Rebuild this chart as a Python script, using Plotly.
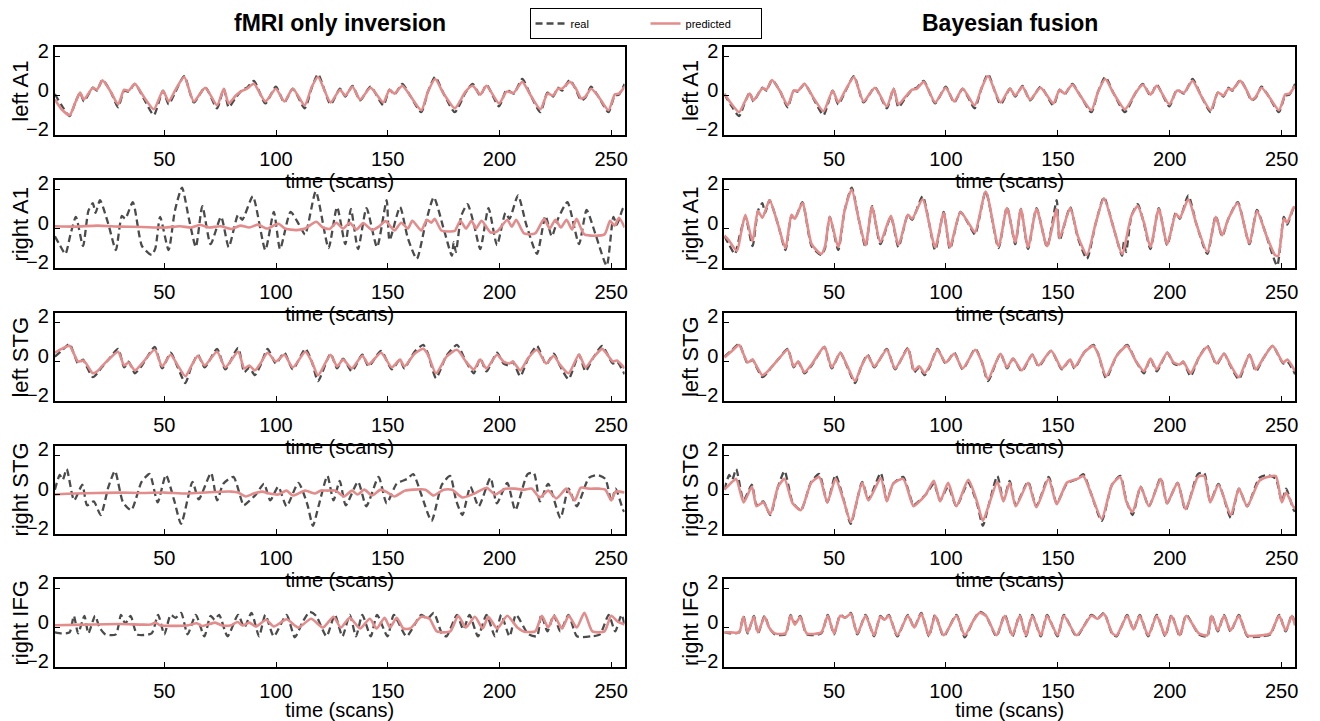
import plotly.graph_objects as go

# ---------------- data ----------------
regions = ["left A1", "right A1", "left STG", "right STG", "right IFG"]
col_titles = ["fMRI only inversion", "Bayesian fusion"]
x_ticks = [50, 100, 150, 200, 250]
y_ticks = [-2, 0, 2]

real_leftA1 = [(1,0.08),(4,-0.5),(7.6,-1.05),(10,-0.4),(12.3,0.15),(14,-0.3),(18,0.4),(19.8,0.25),(22.3,0.8),(26,0.2),(29.3,-0.6),(32,0.25),(34,0.2),(36.8,0.6),(41,-0.2),(45.3,-1.0),(49.4,0.25),(51.9,-0.45),(55,0.2),(58.9,1.0),(63.2,-0.35),(68.3,0.42),(73.6,-0.65),(76.6,0.35),(78.8,-0.6),(82,-0.1),(84.9,0.3),(87,0.4),(90.1,0.75),(95.2,-0.4),(99.9,0.45),(103.7,-0.35),(107.5,0.35),(112.8,-0.65),(116,0.4),(118.8,1.1),(124.4,-0.45),(128.6,0.35),(131,-0.05),(134.2,0.5),(137.6,-0.25),(142.3,0.45),(148,-0.5),(150.8,0.3),(153,0.05),(156.5,0.6),(160,0.0),(165,-0.85),(168,0.2),(171.2,0.95),(175,0.1),(180,-0.85),(184.8,0.15),(188,0.6),(191.4,0.0),(194.2,0.55),(199.8,-0.55),(203.2,0.3),(206.4,0.1),(210.2,0.85),(214,0.0),(218.3,-0.85),(221.5,0.15),(224,-0.05),(226.2,0.4),(228,0.25),(231.5,0.8),(234,0.35),(236.6,-0.25),(238.5,-0.1),(241,0.45),(244,0.0),(248.8,-0.85),(251.6,0.0),(253.5,0.05),(256,0.6)]
real_rightA1 = [(1,-0.4),(3,-0.8),(5.7,-1.3),(8,-0.3),(10.4,0.6),(13.6,-0.9),(16,0.9),(18,1.3),(19.2,0.8),(21.2,1.45),(25,0.2),(28.3,-1.1),(31,0.65),(32.5,0.5),(35.9,1.35),(40,-0.9),(44.3,-1.35),(46,-1.0),(48.1,0.6),(51.9,-1.1),(54.7,0.9),(57.9,2.1),(61,0.5),(64.1,-0.95),(67,1.15),(70.7,-0.8),(75.4,0.6),(78.8,-0.95),(83,0.7),(84.9,0.45),(89.6,1.65),(95.2,-1.1),(99,0.85),(101.8,-1.05),(106.5,0.85),(110.3,0.2),(113,-0.3),(117.8,1.9),(123.5,-1.0),(127.3,1.1),(131,-0.8),(133.5,1.0),(136.7,-1.05),(140.5,1.05),(145.2,-0.95),(149.5,1.45),(150.8,-0.6),(155.5,1.1),(159,-0.5),(163,-1.55),(167,0.3),(170.6,1.6),(175,0.0),(178.7,-1.4),(179.5,-0.7),(180.5,-1.2),(182.9,0.65),(185.7,1.25),(188.5,0.25),(191.4,-1.05),(195.1,1.05),(198.9,-0.85),(202.7,0.8),(204.5,0.5),(208.3,1.7),(212,0.2),(216.8,-1.3),(220.6,0.65),(223.4,-0.4),(226.2,0.5),(230.4,1.35),(235.6,-0.8),(239,0.95),(243,-0.3),(248,-1.9),(251,0.6),(252.5,0.2),(255.4,1.05),(256,0.95)]
real_leftSTG = [(1,0.25),(4,0.55),(7.6,0.9),(9.5,0.4),(11.4,-0.1),(13.6,0.1),(15,-0.2),(18,-0.8),(20,-0.6),(22,-0.3),(25,0.1),(29.3,0.65),(32,-0.3),(34,0.0),(36.8,-0.6),(40,-0.2),(45.7,0.75),(49,-0.35),(52.8,0.45),(56,-0.3),(59.4,-1.1),(62,-0.3),(65,0.35),(68,-0.3),(73.6,0.65),(77.3,-0.4),(83,0.7),(85.8,-0.55),(88,-0.3),(90.5,-0.7),(93,-0.2),(96.2,0.65),(99.9,-0.1),(103.7,0.45),(107.5,-0.4),(113.1,0.65),(116,0.0),(118.8,-1.0),(124.4,0.4),(127.3,-0.35),(130,0.15),(133.9,-0.5),(138.6,0.35),(141.4,-0.25),(147,0.55),(151.8,-0.4),(155.5,0.1),(157.4,-0.35),(162,0.5),(165.9,0.85),(168,0.4),(171.6,-0.85),(176.3,0.3),(181,0.85),(185,0.0),(188.5,-0.6),(191.4,0.15),(194.2,-0.5),(198.9,0.45),(201.8,-0.1),(204.5,-0.2),(206,0.0),(209.3,-0.75),(213,0.2),(216.8,0.8),(220.9,-0.15),(224.3,0.4),(227,-0.2),(230.9,-0.9),(235.6,0.35),(238.5,-0.5),(242,0.2),(246,0.8),(250.7,-0.1),(252.6,0.0),(256,-0.65)]
real_rightSTG = [(1,0.25),(3.2,1.0),(4.5,0.75),(6.3,1.3),(9.6,-0.3),(13.3,0.5),(15.4,-0.55),(18.4,-0.35),(21.5,-1.05),(25,0.4),(27.9,1.2),(31.5,-0.4),(35.2,-0.8),(39.8,0.65),(43.4,1.05),(47,-0.4),(50.7,1.0),(54.4,-0.3),(57.5,-1.5),(62.6,0.65),(65.4,-0.25),(70.9,1.1),(73.6,-0.3),(76.4,0.55),(80.9,0.9),(85.5,-0.55),(87.3,-0.4),(91,0.0),(94.6,0.55),(97.4,-0.3),(101,0.4),(104.7,-0.6),(110,0.6),(114,-0.5),(116.5,-1.6),(119,-0.6),(123,0.95),(125.7,-0.3),(128.5,0.7),(131.2,-0.55),(136.7,0.65),(140.4,-0.6),(145.9,0.9),(149.5,-0.45),(154,0.55),(158.7,0.8),(161.4,1.05),(165,0.0),(169.6,-1.35),(174.2,0.5),(177.9,0.95),(180.6,-0.3),(183.4,-1.05),(187,0.4),(190.7,-0.6),(196,0.85),(198.8,-0.45),(203.5,0.6),(207.1,-0.8),(212.6,1.05),(215.4,1.1),(218.1,-0.35),(221.8,0.55),(227.3,-1.2),(230.9,0.3),(234.6,-0.6),(240,0.85),(243.7,1.0),(247.4,0.8),(250.1,-0.35),(252,0.3),(255.6,-0.85),(256,-0.8)]
real_rightIFG = [(1,-0.25),(4,-0.3),(7.6,-0.25),(9.5,0.6),(11.4,-0.3),(14.2,0.6),(16,-0.3),(19,0.6),(21,0.0),(23.6,-0.35),(28.3,-0.35),(30.6,0.65),(32.5,0.2),(34.9,0.6),(37.8,-0.35),(44.3,-0.3),(47.2,0.65),(50,-0.35),(52.8,0.65),(55,0.5),(57.5,0.75),(60.4,-0.35),(64.1,0.65),(67.9,-0.45),(70.7,0.6),(72.5,0.4),(74.5,0.65),(78.3,-0.45),(83,0.65),(85.8,0.0),(89,0.75),(92.4,-0.45),(95.2,0.65),(99,-0.45),(104.7,0.65),(108.4,-0.5),(112,0.3),(115,0.8),(117.9,0.6),(122.6,-0.45),(126.3,0.65),(129.7,-0.45),(133,0.65),(135.8,-0.45),(138.6,0.65),(142.4,-0.45),(145.2,0.65),(149.9,-0.45),(152.7,0.65),(158.4,-0.45),(165,0.65),(167.8,0.45),(170.6,0.75),(174.4,-0.35),(176.3,-0.45),(181,0.65),(183.8,-0.1),(186.6,0.65),(190.4,-0.45),(194.2,0.65),(198,-0.45),(200.8,0.65),(204.5,-0.45),(207.4,0.65),(213,-0.35),(216.8,-0.45),(218.7,0.65),(221.5,-0.2),(224.3,0.65),(227.2,-0.2),(230.9,0.65),(234.7,-0.45),(241.3,-0.45),(245,-0.35),(248.9,0.65),(251.8,-0.2),(254.6,0.65),(256,0.15)]

fmri_leftA1 = [(1,-0.2),(4,-0.7),(7.6,-1.0),(10,-0.4),(12.3,0.15),(14,-0.2),(18,0.4),(19.8,0.3),(22.3,0.78),(26,0.2),(29.3,-0.45),(32,0.3),(34,0.25),(36.8,0.6),(41,-0.1),(45.3,-0.7),(49.4,0.25),(51.9,-0.3),(55,0.3),(58.9,0.95),(63.2,-0.3),(68.3,0.4),(73.6,-0.5),(76.6,0.35),(78.8,-0.4),(82,0.0),(84.9,0.25),(87,0.35),(90.1,0.6),(95.2,-0.3),(99.9,0.35),(103.7,-0.3),(107.5,0.35),(112.8,-0.5),(116,0.45),(118.8,0.95),(124.4,-0.35),(128.6,0.3),(131,0.0),(134.2,0.45),(137.6,-0.2),(142.3,0.4),(148,-0.35),(150.8,0.3),(153,0.1),(156.5,0.5),(160,0.0),(165,-0.75),(168,0.2),(171.2,0.85),(175,0.1),(180,-0.65),(184.8,0.2),(188,0.5),(191.4,0.05),(194.2,0.5),(199.8,-0.4),(203.2,0.2),(206.4,0.15),(210.2,0.7),(214,0.0),(218.3,-0.7),(221.5,0.1),(224,0.0),(226.2,0.35),(228,0.35),(231.5,0.7),(234,0.4),(236.6,-0.15),(238.5,-0.05),(241,0.35),(244,0.0),(248.8,-0.75),(251.6,0.05),(253.5,0.1),(256,0.45)]
fmri_rightA1 = [(1,0.12),(10,0.1),(20,0.15),(30,0.1),(40,0.08),(50,0.05),(57,0.12),(62,0.05),(66,0.18),(70,0.05),(75,0.12),(80,-0.02),(84,0.15),(88,0.05),(92,0.2),(96,0.0),(101,0.25),(104,0.0),(109,-0.08),(113,0.0),(118,0.35),(121,0.05),(124,-0.02),(127,0.3),(130,0.0),(133,0.3),(136,-0.05),(139,0.28),(143,-0.08),(146,0.1),(149,0.38),(153,-0.1),(156,0.3),(159,0.0),(161,0.4),(165,-0.1),(167.5,0.45),(169.5,0.3),(171,0.5),(174,-0.1),(178,-0.15),(180,-0.12),(182.5,0.4),(185,0.0),(187.5,0.4),(189.5,0.0),(192,0.4),(196,-0.2),(199,-0.15),(203.5,0.45),(205.5,0.1),(207.5,0.45),(211,-0.25),(216,-0.25),(220,0.5),(222.5,0.0),(225,0.45),(227.5,0.05),(230,0.45),(232.5,-0.05),(234.5,0.5),(238,-0.3),(247,-0.3),(249.5,0.4),(251.5,0.15),(253.5,0.55),(256,0.05)]
fmri_leftSTG = [(1,0.45),(4,0.65),(7.6,0.8),(9.5,0.4),(11.4,0.0),(13.6,0.05),(15,-0.1),(18,-0.6),(20,-0.5),(22,-0.25),(25,0.1),(29.3,0.5),(32,-0.2),(34,-0.05),(36.8,-0.45),(40,-0.1),(45.7,0.6),(49,-0.25),(52.8,0.35),(56,-0.2),(59.4,-0.75),(62,-0.25),(65,0.3),(68,-0.2),(73.6,0.5),(77.3,-0.3),(83,0.5),(85.8,-0.35),(88,-0.2),(90.5,-0.45),(93,-0.1),(96.2,0.45),(99.9,0.0),(103.7,0.35),(107.5,-0.3),(113.1,0.5),(116,0.0),(118.8,-0.7),(124.4,0.35),(127.3,-0.25),(130,0.1),(133.9,-0.35),(138.6,0.3),(141.4,-0.15),(147,0.45),(151.8,-0.3),(155.5,0.1),(157.4,-0.25),(162,0.4),(165.9,0.65),(168,0.35),(171.6,-0.6),(176.3,0.25),(181,0.6),(185,0.0),(188.5,-0.4),(191.4,0.1),(194.2,-0.35),(198.9,0.35),(201.8,0.0),(204.5,-0.1),(206,0.0),(209.3,-0.45),(213,0.2),(216.8,0.6),(220.9,-0.1),(224.3,0.3),(227,-0.15),(230.9,-0.6),(235.6,0.35),(238.5,-0.3),(242,0.2),(246,0.65),(250.7,0.0),(252.6,0.05),(256,-0.35)]
fmri_rightSTG = [(1,0.0),(10,0.05),(20,0.08),(30,0.1),(40,0.08),(50,0.1),(60,0.05),(70,0.12),(80,0.15),(83,0.1),(86.4,-0.1),(90,0.05),(93.7,0.15),(97,0.05),(101,0.0),(104.7,0.2),(107.5,-0.05),(113,0.2),(117.5,0.05),(120,0.2),(123,0.2),(126.7,0.2),(130.3,-0.1),(134,0.2),(136.5,0.0),(139.5,0.25),(143,-0.05),(146.8,0.25),(150,0.1),(153,-0.1),(157.7,0.2),(161.4,0.25),(166.9,0.25),(170.5,-0.05),(175,0.25),(178.8,0.25),(183.4,-0.15),(188.8,0.05),(194.3,0.35),(198,0.0),(202.6,0.3),(207,0.3),(210.8,0.25),(214.5,0.3),(218,-0.15),(221.8,0.2),(225.5,-0.2),(230,0.3),(233.7,-0.3),(236.4,0.35),(240,0.3),(244.6,0.3),(247.4,0.25),(250,-0.3),(252,0.15),(256,0.1)]
fmri_rightIFG = [(1,0.12),(15,0.15),(30,0.18),(40,0.15),(44,0.15),(46,0.25),(48,0.12),(60,0.1),(64.5,0.22),(67,0.08),(72.7,0.25),(76,0.1),(80,0.12),(82.8,0.28),(85,0.1),(88,0.25),(91,0.05),(95.6,0.4),(99,0.05),(104.7,0.42),(110,0.0),(115.7,0.45),(121,0.0),(125.7,0.55),(129,0.0),(133,0.5),(137.6,-0.05),(142,0.45),(145,-0.05),(148.6,0.5),(151,0.0),(154,0.5),(157,-0.05),(160,-0.05),(165,0.55),(168.7,0.45),(172,-0.2),(178,-0.2),(181.5,0.6),(185,0.0),(189,0.55),(192.5,-0.05),(195,0.55),(199,-0.05),(203.5,0.6),(208,0.0),(210.8,-0.2),(216,-0.2),(219,0.6),(221.8,0.0),(224.5,0.6),(228,-0.05),(231,0.6),(234.6,0.0),(238,0.75),(241.6,-0.2),(247,-0.2),(250,0.6),(253,0.3),(256,0.15)]

bayes_leftA1 = [(1,0.1),(4,-0.4),(7.6,-0.85),(10,-0.35),(12.3,0.1),(14,-0.25),(18,0.38),(19.8,0.3),(22.3,0.8),(26,0.2),(29.3,-0.5),(32,0.25),(34,0.25),(36.8,0.6),(41,-0.15),(45.3,-0.8),(49.4,0.25),(51.9,-0.35),(55,0.25),(58.9,0.95),(63.2,-0.3),(68.3,0.4),(73.6,-0.55),(76.6,0.35),(78.8,-0.45),(82,-0.05),(84.9,0.3),(87,0.35),(90.1,0.7),(95.2,-0.35),(99.9,0.4),(103.7,-0.3),(107.5,0.35),(112.8,-0.5),(116,0.4),(118.8,1.0),(124.4,-0.35),(128.6,0.35),(131,0.0),(134.2,0.45),(137.6,-0.2),(142.3,0.4),(148,-0.4),(150.8,0.3),(153,0.1),(156.5,0.55),(160,0.0),(165,-0.75),(168,0.2),(171.2,0.85),(175,0.1),(180,-0.7),(184.8,0.15),(188,0.55),(191.4,0.05),(194.2,0.5),(199.8,-0.45),(203.2,0.25),(206.4,0.15),(210.2,0.75),(214,0.0),(218.3,-0.75),(221.5,0.15),(224,0.0),(226.2,0.35),(228,0.3),(231.5,0.75),(234,0.35),(236.6,-0.2),(238.5,-0.05),(241,0.4),(244,0.0),(248.8,-0.75),(251.6,0.05),(253.5,0.1),(256,0.5)]
bayes_rightA1 = [(1,-0.35),(3,-0.6),(6.6,-1.15),(8.5,-0.2),(10.4,0.7),(13.6,-0.65),(16,0.9),(18,0.55),(21.2,1.45),(25,0.2),(28.3,-1.0),(31,0.7),(32.5,0.5),(35.9,1.3),(40,-0.8),(44.3,-1.3),(46,-0.9),(48.1,0.6),(51.9,-0.95),(54.7,0.9),(57.9,2.0),(61,0.5),(64.1,-0.85),(67,1.1),(70.7,-0.7),(75.4,0.65),(78.8,-0.85),(83,0.7),(84.9,0.5),(89.6,1.5),(95.2,-0.95),(99,0.8),(101.8,-0.95),(106.5,0.85),(110.3,0.25),(113,-0.2),(117.8,1.9),(123.5,-0.9),(127.3,1.05),(131,-0.7),(133.5,1.0),(136.7,-0.95),(140.5,1.0),(145.2,-0.9),(149.5,1.0),(150.8,-0.5),(155.5,1.05),(159,-0.4),(163,-1.35),(167,0.3),(170.6,1.55),(175,0.0),(178.7,-1.3),(182.9,0.65),(185.7,1.15),(188.5,0.3),(191.4,-0.95),(195.1,1.0),(198.9,-0.8),(202.7,0.75),(204.5,0.55),(208.3,1.5),(212,0.2),(216.8,-1.2),(220.6,0.6),(223.4,-0.35),(226.2,0.5),(230.4,1.3),(235.6,-0.75),(239,0.9),(243,-0.3),(247,-1.35),(248.5,-1.4),(251,0.5),(252.5,0.3),(255.4,1.1),(256,1.0)]
bayes_leftSTG = [(1,0.2),(4,0.5),(7.6,0.85),(9.5,0.4),(11.4,-0.05),(13.6,0.1),(15,-0.15),(18,-0.7),(20,-0.55),(22,-0.3),(25,0.1),(29.3,0.6),(32,-0.25),(34,0.0),(36.8,-0.55),(40,-0.15),(45.7,0.75),(49,-0.3),(52.8,0.45),(56,-0.25),(59.4,-1.0),(62,-0.3),(65,0.3),(68,-0.25),(73.6,0.6),(77.3,-0.35),(83,0.65),(85.8,-0.45),(88,-0.25),(90.5,-0.6),(93,-0.15),(96.2,0.6),(99.9,-0.05),(103.7,0.4),(107.5,-0.35),(113.1,0.6),(116,0.0),(118.8,-0.9),(124.4,0.4),(127.3,-0.3),(130,0.15),(133.9,-0.45),(138.6,0.35),(141.4,-0.2),(147,0.55),(151.8,-0.35),(155.5,0.1),(157.4,-0.3),(162,0.5),(165.9,0.8),(168,0.4),(171.6,-0.75),(176.3,0.3),(181,0.8),(185,0.0),(188.5,-0.5),(191.4,0.15),(194.2,-0.4),(198.9,0.45),(201.8,-0.05),(204.5,-0.15),(206,0.0),(209.3,-0.6),(213,0.2),(216.8,0.75),(220.9,-0.1),(224.3,0.4),(227,-0.15),(230.9,-0.8),(235.6,0.35),(238.5,-0.4),(242,0.2),(246,0.8),(250.7,-0.05),(252.6,0.1),(256,-0.5)]
bayes_rightSTG = [(1,0.25),(3.2,0.5),(4.5,0.65),(6.3,0.8),(9.6,-0.4),(13.3,0.4),(15.4,-0.6),(18.4,-0.4),(21.5,-1.0),(25,0.4),(27.9,0.8),(31.5,-0.45),(35.2,-0.8),(39.8,0.6),(43.4,0.9),(47,-0.4),(50.7,0.8),(54.4,-0.35),(57.5,-1.4),(62.6,0.6),(65.4,-0.3),(70.9,0.85),(73.6,-0.35),(76.4,0.55),(80.9,0.8),(85.5,-0.6),(87.3,-0.45),(91,0.0),(94.6,0.7),(97.4,-0.35),(101,0.6),(104.7,-0.6),(110,0.75),(114,-0.4),(116.5,-1.35),(119,-0.6),(123,0.65),(125.7,-0.35),(128.5,0.6),(131.2,-0.6),(136.7,0.6),(140.4,-0.65),(145.9,0.8),(149.5,-0.5),(154,0.6),(158.7,0.8),(161.4,0.95),(165,0.0),(169.6,-1.25),(174.2,0.5),(177.9,0.9),(180.6,-0.35),(183.4,-0.9),(187,0.4),(190.7,-0.6),(196,0.8),(198.8,-0.45),(203.5,0.6),(207.1,-0.75),(212.6,0.9),(215.4,0.95),(218.1,-0.4),(221.8,0.5),(227.3,-1.05),(230.9,0.3),(234.6,-0.6),(240,0.7),(243.7,0.9),(247.4,0.95),(250.1,-0.4),(252,0.1),(255.6,-0.7),(256,-0.6)]
bayes_rightIFG = [(1,-0.25),(4,-0.25),(7.6,-0.25),(9.5,0.55),(11.4,-0.25),(14.2,0.55),(16,-0.25),(19,0.55),(21,0.0),(23.6,-0.3),(28.3,-0.3),(30.6,0.6),(32.5,0.15),(34.9,0.55),(37.8,-0.3),(44.3,-0.25),(47.2,0.6),(50,-0.3),(52.8,0.6),(55,0.5),(57.5,0.7),(60.4,-0.3),(64.1,0.6),(67.9,-0.4),(70.7,0.55),(72.5,0.4),(74.5,0.6),(78.3,-0.4),(83,0.6),(85.8,0.0),(89,0.7),(92.4,-0.4),(95.2,0.6),(99,-0.4),(104.7,0.6),(108.4,-0.4),(112,0.3),(115,0.75),(117.9,0.6),(122.6,-0.4),(126.3,0.6),(129.7,-0.4),(133,0.6),(135.8,-0.4),(138.6,0.6),(142.4,-0.4),(145.2,0.6),(149.9,-0.4),(152.7,0.6),(158.4,-0.4),(165,0.6),(167.8,0.45),(170.6,0.7),(174.4,-0.3),(176.3,-0.4),(181,0.6),(183.8,-0.1),(186.6,0.6),(190.4,-0.4),(194.2,0.6),(198,-0.4),(200.8,0.6),(204.5,-0.4),(207.4,0.6),(213,-0.3),(216.8,-0.4),(218.7,0.6),(221.5,-0.15),(224.3,0.6),(227.2,-0.15),(230.9,0.6),(234.7,-0.4),(241.3,-0.4),(245,-0.3),(248.9,0.6),(251.8,-0.15),(254.6,0.6),(256,0.1)]

real_series = [real_leftA1, real_rightA1, real_leftSTG, real_rightSTG, real_rightIFG]
pred_series = [
    [fmri_leftA1, fmri_rightA1, fmri_leftSTG, fmri_rightSTG, fmri_rightIFG],
    [bayes_leftA1, bayes_rightA1, bayes_leftSTG, bayes_rightSTG, bayes_rightIFG],
]

# ---------------- styling / layout ----------------
W, H = 1320, 721
FONT = "Liberation Sans, Arial, sans-serif"
REAL_COLOR = "#4b4b4b"
PRED_COLOR = "#e28c8c"
col_px = [(55, 626), (726, 1298)]
ylab_px = [21, 692]
row_top0, row_step, row_h = 40.7, 136.2, 90.0

fig = go.Figure()
layout = dict(
    width=W, height=H, margin=dict(l=0, r=0, t=0, b=0),
    paper_bgcolor="white", plot_bgcolor="white",
    font=dict(family=FONT, size=20, color="black"),
    showlegend=True,
    legend=dict(orientation="h", x=647 / W, xanchor="center", y=1 - 1 / H, yanchor="top",
                bordercolor="black", borderwidth=1, bgcolor="white",
                font=dict(size=11, family=FONT), tracegroupgap=0,
                entrywidth=70, entrywidthmode="pixels"),
)

annotations = []
for r in range(5):
    top = row_top0 + r * row_step
    ydom = [1 - (top + row_h) / H, 1 - top / H]
    for c in range(2):
        idx = r * 2 + c + 1
        xs = "" if idx == 1 else str(idx)
        xdom = [col_px[c][0] / W, col_px[c][1] / W]
        real = real_series[r]
        pred = pred_series[c][r]
        first = (idx == 1)
        fig.add_trace(go.Scatter(
            x=[p[0] for p in real], y=[p[1] for p in real], mode="lines",
            line=dict(color=REAL_COLOR, width=2.3, dash="7px,4px", shape="spline", smoothing=0.6),
            name="real", showlegend=first, xaxis="x" + xs, yaxis="y" + xs, hoverinfo="skip"))
        fig.add_trace(go.Scatter(
            x=[p[0] for p in pred], y=[p[1] for p in pred], mode="lines",
            line=dict(color=PRED_COLOR, width=2.6, shape="spline", smoothing=0.6),
            name="predicted", showlegend=first, xaxis="x" + xs, yaxis="y" + xs, hoverinfo="skip"))
        layout["xaxis" + xs] = dict(
            domain=xdom, anchor="y" + xs, range=[1, 256], tickvals=x_ticks,
            ticks="inside", ticklen=5, tickcolor="black", showgrid=False, zeroline=False,
            showline=True, linecolor="black", linewidth=2, mirror=True,
            tickfont=dict(size=20), ticklabelstandoff=5,
            title=dict(text="time (scans)", font=dict(size=20), standoff=5))
        layout["yaxis" + xs] = dict(
            domain=ydom, anchor="x" + xs, range=[-2, 2.5], tickvals=y_ticks,
            ticks="inside", ticklen=5, tickcolor="black", showgrid=False, zeroline=False,
            showline=True, linecolor="black", linewidth=2, mirror=True,
            tickfont=dict(size=20), ticklabelshift=-6)
        annotations.append(dict(text=regions[r], textangle=-90, x=ylab_px[c] / W,
                                y=1 - (top + row_h / 2) / H, xref="paper", yref="paper",
                                showarrow=False, xanchor="center", yanchor="middle",
                                font=dict(size=22, family=FONT)))

for c in range(2):
    cx = (col_px[c][0] + col_px[c][1]) / 2 / W
    annotations.append(dict(text="<b>%s</b>" % col_titles[c], x=cx, y=1 - 16 / H, xref="paper",
                            yref="paper", showarrow=False, xanchor="center", yanchor="middle",
                            font=dict(size=23, family=FONT)))
layout["annotations"] = annotations
fig.update_layout(**layout)
fig.write_html("out.html")
